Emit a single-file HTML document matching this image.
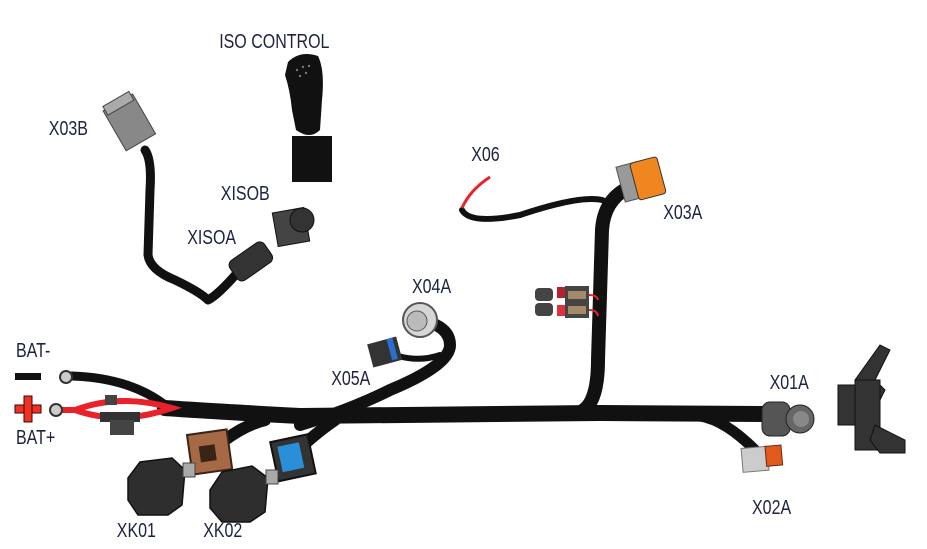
<!DOCTYPE html>
<html><head><meta charset="utf-8"><style>
html,body{margin:0;padding:0;background:#fff;}
svg{display:block}
.l{font-family:"Liberation Sans",sans-serif;font-size:20px;fill:#1c2340;}
</style></head><body>
<svg width="927" height="549" viewBox="0 0 927 549" xmlns="http://www.w3.org/2000/svg">
<g fill="none" stroke="#111" stroke-linecap="round" stroke-linejoin="round">
<path d="M165 408 Q190 410 300 416 L600 413 L765 414" stroke-width="16"/>
<path d="M72 376 Q130 378 165 405" stroke-width="9"/>
<path d="M580 412 Q598 405 598 360 L602 230 Q604 200 628 188" stroke-width="14"/>
<path d="M462 210 Q470 225 520 215 Q580 195 602 200 Q612 204 615 196" stroke-width="6"/>
<path d="M700 416 Q725 420 755 450" stroke-width="11"/>
<path d="M300 425 Q350 410 390 390 Q450 365 450 345 Q450 332 436 325" stroke-width="12"/>
<path d="M398 356 Q420 362 440 355" stroke-width="6"/>
<path d="M225 440 Q245 425 265 420" stroke-width="12"/>
<path d="M300 448 Q320 430 335 420" stroke-width="12"/>
<path d="M145 150 Q152 160 150 190 L148 255 Q150 270 175 280 Q200 292 208 300 Q218 295 238 272" stroke-width="9"/>
</g>
<path d="M62 410 L75 410 Q120 393 172 408 Q120 426 75 410" fill="none" stroke="#e8222a" stroke-width="6"/>
<rect x="100" y="412" width="40" height="10" fill="#333"/>
<rect x="110" y="420" width="24" height="15" fill="#444"/>
<rect x="105" y="395" width="12" height="10" fill="#444"/>
<circle cx="66" cy="377" r="6" fill="#ccc" stroke="#333" stroke-width="2"/>
<circle cx="56" cy="410" r="6" fill="#ccc" stroke="#333" stroke-width="2"/>
<rect x="15" y="373" width="26" height="7" fill="#111"/>
<rect x="15" y="405" width="26" height="8" fill="#e32" stroke="#400" stroke-width="1"/>
<rect x="24" y="396" width="8" height="26" fill="#e32" stroke="#400" stroke-width="1"/>
<rect x="25" y="405" width="6" height="8" fill="#e32"/>
<g transform="rotate(-8 210 455)"><rect x="190" y="432" width="40" height="40" fill="#a56a45" stroke="#3a2416" stroke-width="2"/><rect x="200" y="445" width="16" height="16" fill="#3a2416"/></g>
<g transform="rotate(-12 292 458)"><rect x="274" y="438" width="38" height="40" fill="#333" stroke="#111" stroke-width="2"/><rect x="280" y="444" width="22" height="26" fill="#2a8ed8"/></g>
<g fill="#2e2e2e" stroke="#111" stroke-width="1.5">
<path d="M128 478 L140 462 L172 458 L185 470 L182 505 L168 515 L138 515 L128 500Z"/>
<path d="M210 490 L222 472 L252 466 L268 478 L265 512 L250 522 L222 522 L210 508Z"/>
</g>
<rect x="183" y="463" width="12" height="14" fill="#aaa" stroke="#444"/>
<rect x="266" y="470" width="12" height="14" fill="#aaa" stroke="#444"/>
<circle cx="420" cy="320" r="17" fill="#d6d6d6" stroke="#555" stroke-width="2"/>
<circle cx="417" cy="321" r="10" fill="#bbb" stroke="#555"/>
<g transform="rotate(-15 385 353)"><rect x="370" y="340" width="30" height="24" fill="#333"/><rect x="390" y="340" width="6" height="22" fill="#2a6ed0"/></g>
<g transform="rotate(-15 638 180)"><rect x="620" y="162" width="22" height="36" fill="#999" stroke="#555"/><rect x="634" y="162" width="28" height="38" rx="3" fill="#f0861f" stroke="#333"/></g>
<path d="M462 208 Q470 190 490 177" fill="none" stroke="#e8222a" stroke-width="3"/>
<rect x="535" y="288" width="18" height="13" rx="4" fill="#444"/>
<rect x="535" y="303" width="18" height="13" rx="4" fill="#444"/>
<rect x="557" y="287" width="8" height="11" fill="#b3232a"/><rect x="557" y="305" width="8" height="11" fill="#e03040"/>
<rect x="565" y="286" width="24" height="32" fill="#444"/>
<rect x="568" y="291" width="18" height="8" fill="#a48a6a"/><rect x="568" y="306" width="18" height="8" fill="#a48a6a"/>
<path d="M589 295 Q597 295 598 300 M589 310 Q597 310 598 316" fill="none" stroke="#e8222a" stroke-width="2"/>
<rect x="762" y="402" width="28" height="34" rx="8" fill="#555" stroke="#222"/>
<circle cx="800" cy="419" r="14" fill="#666" stroke="#222"/>
<circle cx="801" cy="419" r="8" fill="#888"/>
<g transform="rotate(-5 770 458)"><rect x="742" y="446" width="26" height="24" fill="#ccc" stroke="#777"/><rect x="766" y="446" width="16" height="20" fill="#e05a1e" stroke="#6a2a10"/></g>
<g fill="#333" stroke="#111">
<path d="M855 380 L880 345 L890 350 L875 380 L885 390 L880 400 Z"/>
<rect x="838" y="385" width="20" height="40"/>
<rect x="855" y="380" width="25" height="70"/>
<path d="M875 425 L905 440 L905 453 L880 453 L870 440Z"/>
</g>
<path d="M288 62 Q300 50 318 56 Q325 70 322 100 L320 130 Q310 140 296 130 L292 110 Q290 90 285 75Z" fill="#111"/>
<rect x="292" y="136" width="40" height="46" fill="#111"/>
<g fill="#777"><circle cx="297" cy="70" r="1.2"/><circle cx="303" cy="67" r="1.2"/><circle cx="309" cy="66" r="1.2"/><circle cx="300" cy="76" r="1.2"/><circle cx="306" cy="73" r="1.2"/></g>
<g transform="rotate(-30 128 122)"><rect x="112" y="100" width="34" height="46" fill="#888" stroke="#444"/><rect x="114" y="96" width="30" height="10" fill="#aaa" stroke="#444"/></g>
<g transform="rotate(-35 250 262)"><rect x="230" y="250" width="42" height="24" rx="6" fill="#333" stroke="#111"/></g>
<rect x="275" y="210" width="32" height="34" fill="#444" stroke="#111" transform="rotate(-10 291 227)"/>
<circle cx="302" cy="220" r="12" fill="#333" stroke="#111"/>
<g class="l" transform="scale(0.8 1)">
<text x="274" y="48">ISO CONTROL</text>
<text x="61" y="135">X03B</text>
<text x="276" y="200">XISOB</text>
<text x="234" y="244">XISOA</text>
<text x="589" y="161">X06</text>
<text x="829" y="219">X03A</text>
<text x="515" y="293">X04A</text>
<text x="414" y="385">X05A</text>
<text x="20" y="357">BAT-</text>
<text x="20" y="444">BAT+</text>
<text x="962" y="389">X01A</text>
<text x="940" y="514">X02A</text>
<text x="146" y="537">XK01</text>
<text x="254" y="537">XK02</text>
</g>
</svg>
</body></html>
